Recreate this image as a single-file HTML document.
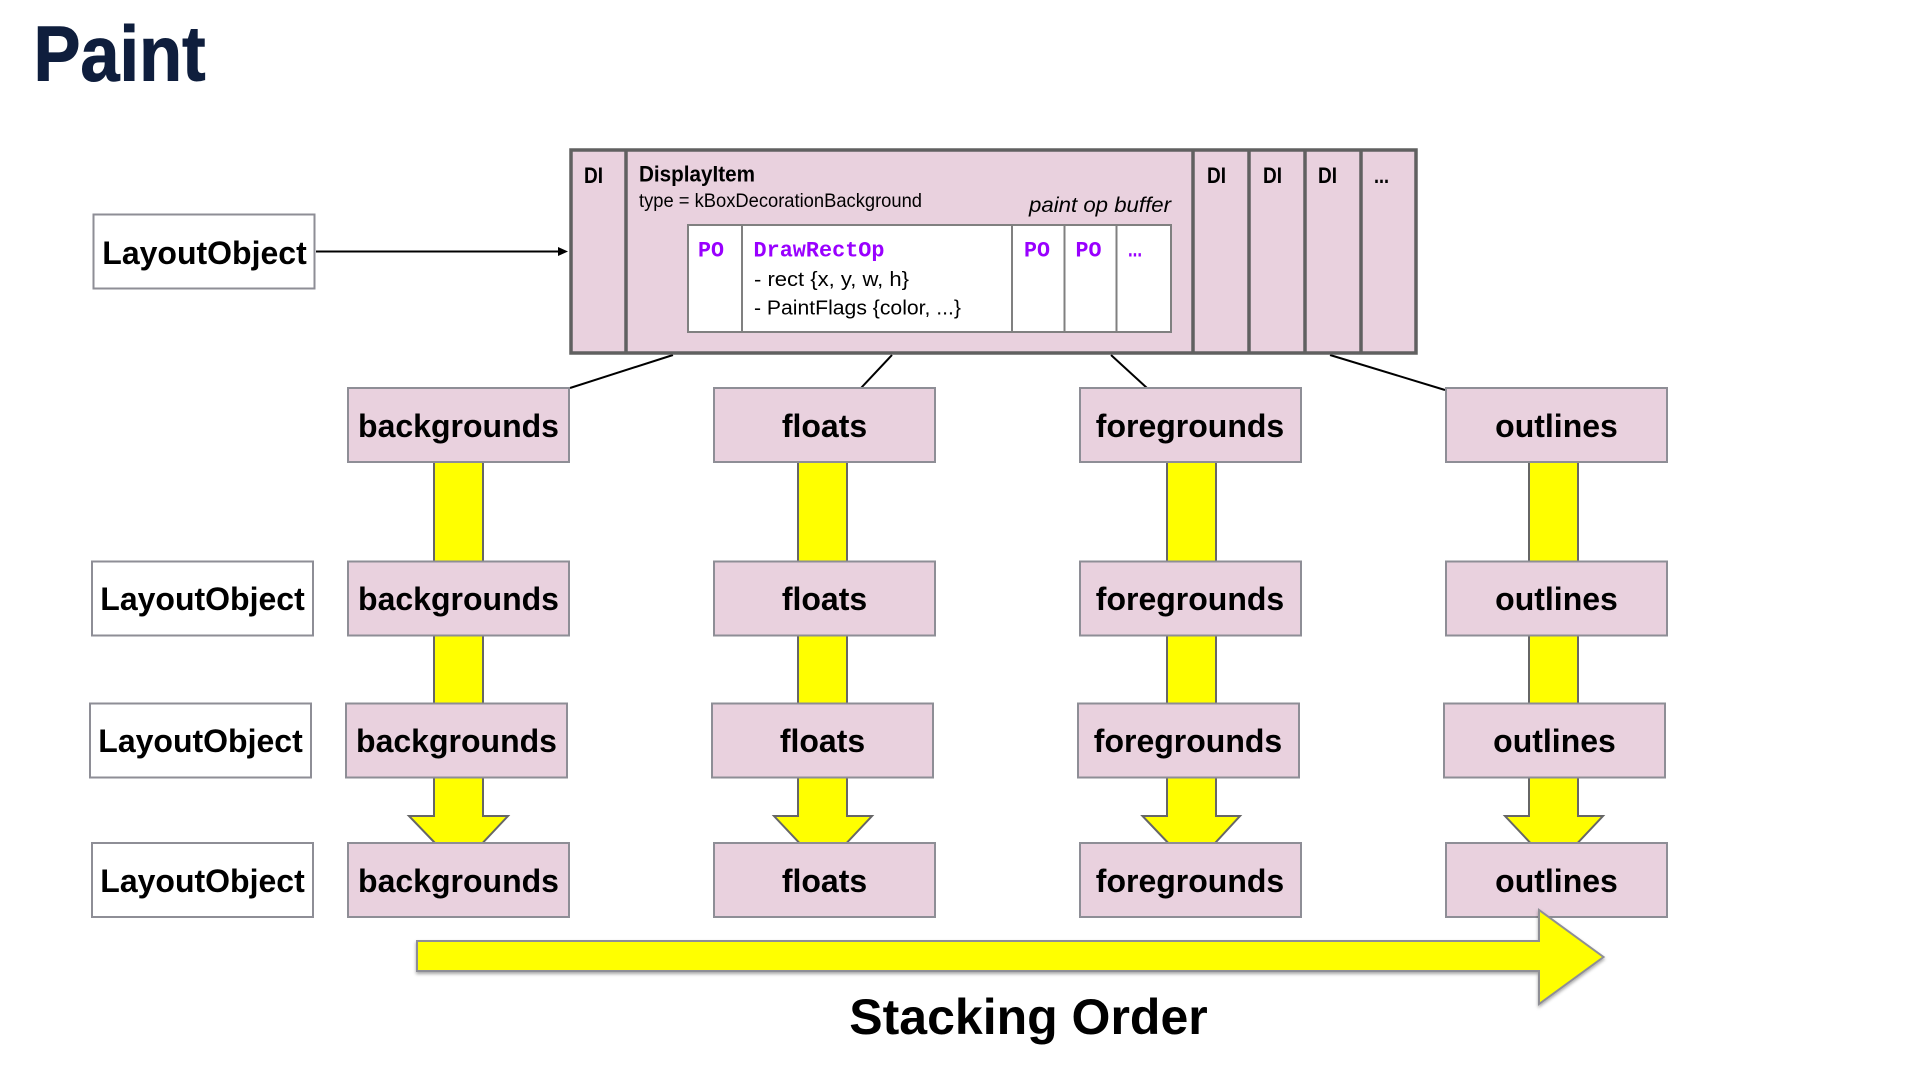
<!DOCTYPE html>
<html><head><meta charset="utf-8"><title>Paint</title>
<style>
html,body{margin:0;padding:0;background:#fff;width:1920px;height:1080px;overflow:hidden}
svg{display:block;font-family:"Liberation Sans",sans-serif}
.b{fill:#e9d1de;stroke:#8e8e96;stroke-width:2}
.w{fill:#fff;stroke:#8e8e96;stroke-width:2}
.s{fill:#ff0;stroke:#666;stroke-width:2}
.o{fill:#e9d1de;stroke:#606060;stroke-width:3.5}
.d{stroke:#606060;stroke-width:3.5;fill:none}
.i{stroke:#808080;stroke-width:2;fill:none}
.l{stroke:#000;stroke-width:2;fill:none}
.t{font-weight:bold;font-size:32px;text-anchor:middle;fill:#000}
.h{font-weight:bold;font-size:22px;fill:#000}
.p{font-family:"Liberation Mono",monospace;font-weight:bold;font-size:22px;fill:#9900ff}
.n{font-size:20px;fill:#000}
</style></head><body>
<svg width="1920" height="1080" viewBox="0 0 1920 1080" xmlns="http://www.w3.org/2000/svg">
<defs><filter id="sh" x="-5%" y="-20%" width="110%" height="140%"><feDropShadow dx="0" dy="2" stdDeviation="1.5" flood-color="#000" flood-opacity=".35"/></filter></defs>

<text x="33.500" y="80.500" font-size="78" font-weight="bold" fill="#0f1e3d" stroke="#0f1e3d" stroke-width="1" textLength="172" lengthAdjust="spacingAndGlyphs">Paint</text>

<!-- connector lines -->
<path class="l" d="M673 355L570 388M892 355L861 388M1111 355L1147 388M1330 355L1445 390"/>

<!-- display item list -->
<rect class="o" x="571" y="150" width="845" height="203"/>
<path class="d" d="M626 150V353M1193 150V353M1249 150V353M1305 150V353M1361 150V353"/>
<text class="h" x="584" y="183" textLength="19" lengthAdjust="spacingAndGlyphs">DI</text>
<text class="h" x="1207" y="183" textLength="19" lengthAdjust="spacingAndGlyphs">DI</text>
<text class="h" x="1263" y="183" textLength="19" lengthAdjust="spacingAndGlyphs">DI</text>
<text class="h" x="1318" y="183" textLength="19" lengthAdjust="spacingAndGlyphs">DI</text>
<text class="h" x="1374" y="183" textLength="15" lengthAdjust="spacingAndGlyphs">...</text>
<text class="h" x="639" y="181.500" textLength="116" lengthAdjust="spacingAndGlyphs">DisplayItem</text>
<text x="639" y="207" font-size="19.500" fill="#000" textLength="283" lengthAdjust="spacingAndGlyphs">type = kBoxDecorationBackground</text>
<text x="1029" y="212" font-size="21.500" font-style="italic" fill="#000" textLength="142" lengthAdjust="spacingAndGlyphs">paint op buffer</text>

<rect x="688" y="225" width="483" height="107" fill="#fff" stroke="#808080" stroke-width="2"/>
<path class="i" d="M742 225V332M1012 225V332M1064.500 225V332M1116.500 225V332"/>
<text class="p" x="698" y="256.500" textLength="26" lengthAdjust="spacingAndGlyphs">PO</text>
<text class="p" x="753.500" y="256.500" textLength="131" lengthAdjust="spacingAndGlyphs">DrawRectOp</text>
<text class="p" x="1024" y="256.500" textLength="26" lengthAdjust="spacingAndGlyphs">PO</text>
<text class="p" x="1075.500" y="256.500" textLength="26" lengthAdjust="spacingAndGlyphs">PO</text>
<text x="1128" y="256.500" font-size="22" font-weight="bold" fill="#9900ff" textLength="14" lengthAdjust="spacingAndGlyphs">...</text>
<text class="n" x="754" y="286" font-size="21" textLength="155" lengthAdjust="spacingAndGlyphs">- rect {x, y, w, h}</text>
<text class="n" x="754" y="314.500" font-size="21" textLength="207" lengthAdjust="spacingAndGlyphs">- PaintFlags {color, ...}</text>

<!-- LayoutObject arrow -->
<path class="l" d="M316 251.500H560"/>
<path d="M558 247L568 251.500L558 256Z" fill="#000"/>

<!-- yellow shafts -->
<polygon class="s" points="434,455 483,455 483,816 508,816 459,868 409,816 434,816"/>
<polygon class="s" points="798,455 847,455 847,816 872,816 823,868 774,816 798,816"/>
<polygon class="s" points="1167,455 1216,455 1216,816 1240,816 1192,868 1142.500,816 1167,816"/>
<polygon class="s" points="1529,455 1578,455 1578,816 1603,816 1554,868 1505,816 1529,816"/>

<!-- LayoutObject boxes -->
<rect class="w" x="93.500" y="214.500" width="221" height="74"/>
<text class="t" x="204.500" y="264">LayoutObject</text>
<rect class="w" x="92" y="561.500" width="221" height="74"/>
<text class="t" x="202.500" y="610">LayoutObject</text>
<rect class="w" x="90" y="703.500" width="221" height="74"/>
<text class="t" x="200.500" y="752">LayoutObject</text>
<rect class="w" x="92" y="843" width="221" height="74"/>
<text class="t" x="202.500" y="892">LayoutObject</text>

<!-- row 1 -->
<rect class="b" x="348" y="388" width="221" height="74"/><text class="t" x="458.500" y="437">backgrounds</text>
<rect class="b" x="714" y="388" width="221" height="74"/><text class="t" x="824.500" y="437">floats</text>
<rect class="b" x="1080" y="388" width="221" height="74"/><text class="t" x="1190" y="437">foregrounds</text>
<rect class="b" x="1446" y="388" width="221" height="74"/><text class="t" x="1556.500" y="437">outlines</text>
<!-- row 2 -->
<rect class="b" x="348" y="561.500" width="221" height="74"/><text class="t" x="458.500" y="610">backgrounds</text>
<rect class="b" x="714" y="561.500" width="221" height="74"/><text class="t" x="824.500" y="610">floats</text>
<rect class="b" x="1080" y="561.500" width="221" height="74"/><text class="t" x="1190" y="610">foregrounds</text>
<rect class="b" x="1446" y="561.500" width="221" height="74"/><text class="t" x="1556.500" y="610">outlines</text>
<!-- row 3 -->
<rect class="b" x="346" y="703.500" width="221" height="74"/><text class="t" x="456.500" y="752">backgrounds</text>
<rect class="b" x="712" y="703.500" width="221" height="74"/><text class="t" x="822.500" y="752">floats</text>
<rect class="b" x="1078" y="703.500" width="221" height="74"/><text class="t" x="1188" y="752">foregrounds</text>
<rect class="b" x="1444" y="703.500" width="221" height="74"/><text class="t" x="1554.500" y="752">outlines</text>
<!-- row 4 -->
<rect class="b" x="348" y="843" width="221" height="74"/><text class="t" x="458.500" y="892">backgrounds</text>
<rect class="b" x="714" y="843" width="221" height="74"/><text class="t" x="824.500" y="892">floats</text>
<rect class="b" x="1080" y="843" width="221" height="74"/><text class="t" x="1190" y="892">foregrounds</text>
<rect class="b" x="1446" y="843" width="221" height="74"/><text class="t" x="1556.500" y="892">outlines</text>

<!-- stacking arrow -->
<polygon points="417,941 1539,941 1539,910 1603.500,957 1539,1004 1539,971 417,971" fill="#ff0" stroke="#8e8e96" stroke-width="2" filter="url(#sh)"/>
<text x="1028.500" y="1034" font-size="50" font-weight="bold" text-anchor="middle" fill="#000">Stacking Order</text>
</svg>
</body></html>
